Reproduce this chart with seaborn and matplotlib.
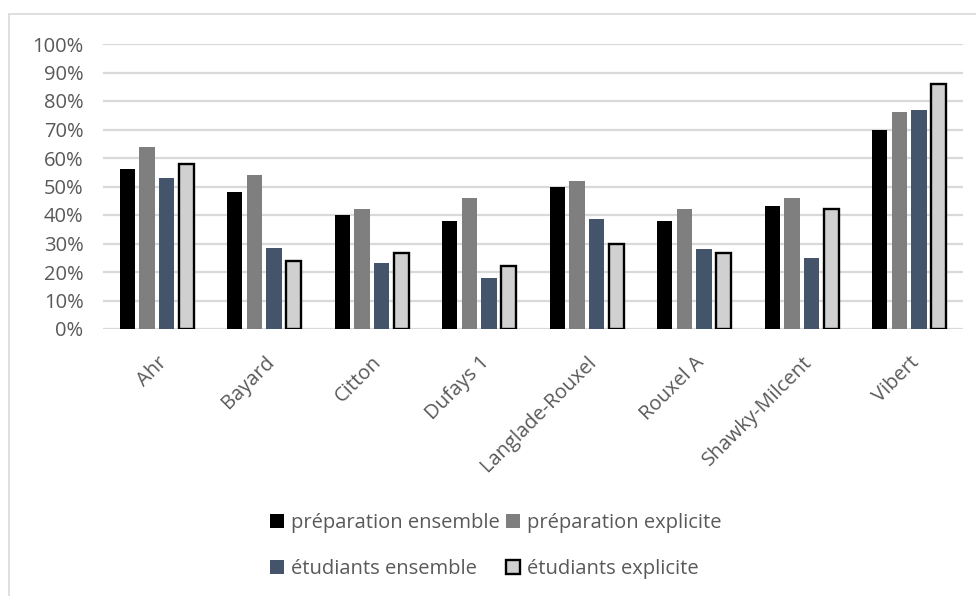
import matplotlib
matplotlib.use("Agg")
import matplotlib.pyplot as plt
import matplotlib.patches as mpatches
from matplotlib.ticker import PercentFormatter
import seaborn as sns
import pandas as pd

categories = ["Ahr", "Bayard", "Citton", "Dufays 1", "Langlade-Rouxel",
              "Rouxel A", "Shawky-Milcent", "Vibert"]
series_names = ["préparation ensemble", "préparation explicite",
                "étudiants ensemble", "étudiants explicite"]
prep_ensemble = [0.56, 0.48, 0.40, 0.38, 0.50, 0.38, 0.43, 0.70]
prep_explicite = [0.64, 0.54, 0.42, 0.46, 0.52, 0.42, 0.46, 0.76]
etu_ensemble = [0.53, 0.285, 0.23, 0.18, 0.385, 0.28, 0.25, 0.77]
etu_explicite = [0.58, 0.24, 0.265, 0.22, 0.30, 0.265, 0.42, 0.86]
y_ticks = [0, 0.1, 0.2, 0.3, 0.4, 0.5, 0.6, 0.7, 0.8, 0.9, 1.0]

colors = ["#000000", "#7f7f7f", "#44546a", "#d0d0d0"]
text_color = "#595959"
grid_color = "#d9d9d9"

rows = []
for name, vals in zip(series_names, [prep_ensemble, prep_explicite, etu_ensemble, etu_explicite]):
    for c, v in zip(categories, vals):
        rows.append({"cat": c, "serie": name, "val": v})
df = pd.DataFrame(rows)

sns.set_theme(style="white")
plt.rcParams["font.family"] = ["Open Sans", "DejaVu Sans"]

FS = 14.5

fig = plt.figure(figsize=(9.76, 5.96), dpi=100)
W, H = 976, 596
ax = fig.add_axes([103 / W, 1 - 329 / H, (963 - 103) / W, (329 - 44) / H])

sns.barplot(data=df, x="cat", y="val", hue="serie", order=categories,
            hue_order=series_names, palette=colors, width=0.73, gap=0.22,
            errorbar=None, ax=ax, legend=False, saturation=1)

n = len(categories)
for i, p in enumerate(ax.patches):
    if i // n == 3:
        p.set_edgecolor("black")
        p.set_linewidth(1.7)
    else:
        p.set_linewidth(0)

ax.set_ylim(0, 1.0)
ax.set_xlim(-0.5, n - 0.5)
ax.set_yticks(y_ticks)
ax.yaxis.set_major_formatter(PercentFormatter(1.0, decimals=0))
ax.grid(axis="y", color=grid_color, linewidth=1.6)
ax.set_axisbelow(True)
for s in ax.spines.values():
    s.set_visible(False)
ax.set_xlabel("")
ax.set_ylabel("")
ax.tick_params(axis="both", length=0, colors=text_color, labelsize=FS)
ax.tick_params(axis="y", pad=14)
ax.tick_params(axis="x", pad=17)
for lbl in ax.get_xticklabels():
    lbl.set_rotation(45)
    lbl.set_ha("right")
    lbl.set_rotation_mode("anchor")
    lbl.set_color(text_color)

handles = []
for name, col in zip(series_names, colors):
    if name == series_names[3]:
        handles.append(mpatches.Patch(facecolor=col, edgecolor="black", linewidth=1.7, label=name))
    else:
        handles.append(mpatches.Patch(facecolor=col, edgecolor="none", label=name))
order = [0, 2, 1, 3]
leg = fig.legend([handles[i] for i in order], [series_names[i] for i in order],
                 ncol=2, loc="center", bbox_to_anchor=(496 / W, 1 - 546 / H),
                 frameon=False, fontsize=FS, handlelength=0.7, handleheight=0.7,
                 handletextpad=0.35, columnspacing=0.3, labelspacing=1.3)
for t in leg.get_texts():
    t.set_color(text_color)

fig.patches.append(mpatches.Rectangle((9 / W, -0.1), 1.2, 1 - 14 / H + 0.1,
                                      transform=fig.transFigure, fill=False,
                                      edgecolor="#d9d9d9", linewidth=1.2))

fig.savefig("out.png", dpi=100)
